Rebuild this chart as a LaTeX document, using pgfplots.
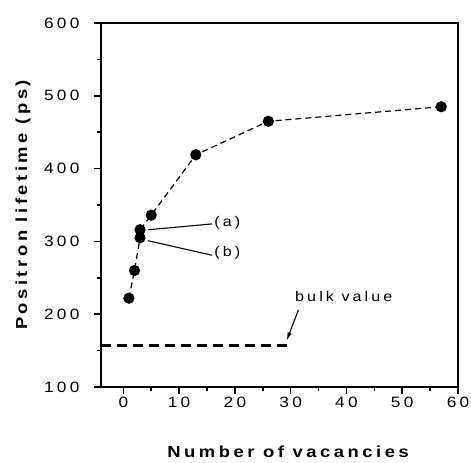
\documentclass[border=0pt]{standalone}
\usepackage{fontspec}
\setmainfont{Liberation Sans}[FakeStretch=1.15,LetterSpace=22]
\usepackage{pgfplots}
\pgfplotsset{compat=1.18}
\usetikzlibrary{arrows.meta}
\begin{document}
\begin{tikzpicture}
\path[use as bounding box] (-101bp,-76bp) rectangle (370bp,387bp);
\begin{axis}[
  at={(0,0)}, anchor=south west,
  scale only axis, width=357bp, height=364bp,
  xmin=-4, xmax=60, ymin=100, ymax=600,
  xtick={0,10,...,60}, ytick={100,200,...,600},
  minor xtick={5,15,...,55}, minor ytick={150,250,...,550},
  tick pos=left, tick align=outside,
  major tick length=7bp, minor tick length=4bp,
  every tick/.style={line width=1.6bp, black},
  axis line style={line width=2bp},
  tick label style={font=\fontsize{15bp}{17bp}\selectfont},
  yticklabel style={xshift=-11bp},
  /pgf/number format/assume math mode=true,
  xlabel={Number of vacancies}, ylabel={Positron lifetime (ps)},
  every axis x label/.style={at={([yshift=-70bp]axis description cs:0.524,0)}, anchor=base,
    font=\fontsize{16bp}{19bp}\selectfont\bfseries},
  every axis y label/.style={at={([xshift=-78bp]axis description cs:0,0.5)}, rotate=90, anchor=center,
    font=\fontsize{16bp}{19bp}\selectfont\bfseries},
  clip=false,
]
\addplot[black, line width=2.2bp, dash pattern=on 10bp off 6bp] coordinates {(-4,157) (30,157)};
\addplot[black, line width=1.2bp, dash pattern=on 6bp off 4bp, mark=*, mark size=5bp, mark options={solid}]
  coordinates {(1,222) (2,260) (3,305) (3,316) (5,336) (13,419) (26,465) (57,485)};
\draw[line width=1.1bp] (axis cs:4.5,316) -- (axis cs:15.9,324);
\draw[line width=1.1bp] (axis cs:4.4,301) -- (axis cs:15.9,281);
\node[anchor=west, font=\fontsize{14bp}{16bp}\selectfont, inner sep=1bp] at (axis cs:16.1,325) {(a)};
\node[anchor=west, font=\fontsize{14bp}{16bp}\selectfont, inner sep=1bp] at (axis cs:16.1,284) {(b)};
\node[anchor=west, font=\fontsize{14bp}{16bp}\selectfont, inner sep=1bp] at (axis cs:30.6,224) {bulk value};
\draw[line width=1.1bp, -{Latex[length=8bp,width=4.5bp]}] (axis cs:31.4,206) -- (axis cs:29.3,164);
\end{axis}
\end{tikzpicture}
\end{document}
